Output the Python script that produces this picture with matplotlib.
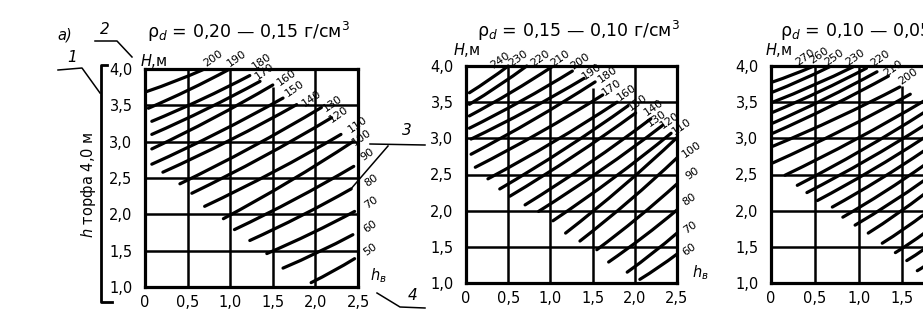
import numpy as np
import matplotlib
matplotlib.use("Agg")
import matplotlib.pyplot as plt
from matplotlib.path import Path
from matplotlib.patches import PathPatch
from matplotlib.lines import Line2D

plt.rcParams['font.family'] = ['DejaVu Sans']
plt.rcParams['mathtext.fontset'] = 'dejavusans'

# ---------------------------------------------------------------- data
x_ticks = [0, 0.5, 1.0, 1.5, 2.0, 2.5]
x_ticklabels = ['0', '0,5', '1,0', '1,5', '2,0', '2,5']
y_ticks = [1.0, 1.5, 2.0, 2.5, 3.0, 3.5, 4.0]
y_ticklabels = ['1,0', '1,5', '2,0', '2,5', '3,0', '3,5', '4,0']

titles = [r'ρ$_d$ = 0,20 — 0,15 г/см$^3$',
          r'ρ$_d$ = 0,15 — 0,10 г/см$^3$',
          r'ρ$_d$ = 0,10 — 0,05 г/см$^3$']

# panel a), rho 0.20-0.15
p1_values = [200, 190, 180, 170, 160, 150, 140, 130, 120, 110, 100, 90, 80, 70, 60, 50]
p1_x0 = [0.02, 0.04, 0.08, 0.08, 0.08, 0.08, 0.21, 0.41, 0.55, 0.70, 0.92, 1.05, 1.23, 1.43, 1.62, 1.95]
p1_y0 = [3.69, 3.46, 3.28, 3.10, 2.90, 2.69, 2.58, 2.42, 2.29, 2.11, 1.94, 1.79, 1.64, 1.46, 1.26, 1.06]
p1_x1 = [0.68, 0.98, 1.23, 1.35, 1.50, 1.62, 1.78, 2.07, 2.19, 2.30, 2.44, 2.45, 2.42, 2.46, 2.44, 2.46]
p1_y1 = [3.99, 3.99, 3.91, 3.83, 3.78, 3.60, 3.51, 3.47, 3.33, 3.10, 3.00, 2.66, 2.35, 2.04, 1.72, 1.39]
p1_lab = ['200', '190', '180', '170', '160', '150', '140', '130', '120', '110', '100', '90', '80', '70', '60', '50']
p1_lab_x = [0.80, 1.08, 1.37, 1.41, 1.66, 1.76, 1.96, 2.20, 2.28, 2.50, 2.54, 2.61, 2.66, 2.66, 2.64, 2.64]
p1_lab_y = [4.14, 4.15, 4.11, 3.96, 3.88, 3.73, 3.59, 3.53, 3.38, 3.23, 3.06, 2.82, 2.47, 2.16, 1.83, 1.51]

# panel rho 0.15-0.10
p2_values = [240, 230, 220, 210, 200, 190, 180, 170, 160, 150, 140, 130, 120, 110, 100, 90, 80, 70, 60]
p2_x0 = [0.04, 0.04, 0.04, 0.04, 0.06, 0.06, 0.11, 0.26, 0.40, 0.52, 0.70, 0.86, 1.03, 1.18, 1.35, 1.55, 1.69, 1.91, 2.06]
p2_y0 = [3.63, 3.47, 3.31, 3.14, 2.99, 2.78, 2.60, 2.44, 2.30, 2.20, 2.08, 1.99, 1.86, 1.69, 1.58, 1.46, 1.29, 1.15, 1.05]
p2_x1 = [0.50, 0.72, 1.02, 1.26, 1.40, 1.53, 1.62, 1.79, 1.92, 2.01, 2.19, 2.33, 2.43, 2.50, 2.50, 2.50, 2.50, 2.50, 2.50]
p2_y1 = [4.00, 4.00, 3.99, 3.93, 3.83, 3.78, 3.60, 3.50, 3.45, 3.35, 3.27, 3.18, 3.07, 3.01, 2.73, 2.37, 2.01, 1.69, 1.40]
p2_lab = ['240', '230', '220', '210', '200', '190', '180', '170', '160', '150', '140', '130', '120', '110', '100', '90', '80', '70', '60']
p2_lab_x = [0.40, 0.62, 0.88, 1.11, 1.35, 1.49, 1.68, 1.73, 1.91, 2.04, 2.22, 2.26, 2.42, 2.56, 2.68, 2.68, 2.65, 2.65, 2.65]
p2_lab_y = [4.08, 4.11, 4.11, 4.10, 4.06, 3.92, 3.88, 3.70, 3.63, 3.49, 3.43, 3.28, 3.25, 3.16, 2.84, 2.52, 2.15, 1.77, 1.46]

# panel rho 0.10-0.05 (cut at the right edge of the page)
p3_values = [270, 260, 250, 240, 230, 220, 210, 200, 190, 180, 170, 160, 150, 140, 130, 120, 110, 100, 90, 80]
p3_x0 = [0.02, 0.02, 0.02, 0.02, 0.02, 0.02, 0.02, 0.02, 0.16, 0.30, 0.41, 0.53, 0.70, 0.82, 0.96, 1.11, 1.27, 1.42, 1.55, 1.67]
p3_y0 = [3.78, 3.64, 3.50, 3.36, 3.21, 3.07, 2.89, 2.66, 2.49, 2.35, 2.25, 2.14, 2.05, 1.91, 1.80, 1.69, 1.55, 1.42, 1.31, 1.17]
p3_x1 = [0.47, 0.67, 0.94, 1.09, 1.21, 1.34, 1.47, 1.59, 1.75, 1.75, 1.75, 1.75, 1.75, 1.75, 1.75, 1.75, 1.75, 1.75, 1.75, 1.75]
p3_y1 = [3.99, 3.99, 3.99, 3.97, 3.92, 3.86, 3.71, 3.61, 3.52, 3.36, 3.18, 3.01, 2.83, 2.63, 2.42, 2.23, 1.95, 1.69, 1.47, 1.23]
p3_lab = ['270', '260', '250', '230', '220', '210', '200']
p3_lab_x = [0.39, 0.55, 0.72, 0.96, 1.25, 1.39, 1.57]
p3_lab_y = [4.12, 4.14, 4.12, 4.12, 4.11, 3.96, 3.85]

panels = [
    (p1_x0, p1_y0, p1_x1, p1_y1, p1_lab, p1_lab_x, p1_lab_y),
    (p2_x0, p2_y0, p2_x1, p2_y1, p2_lab, p2_lab_x, p2_lab_y),
    (p3_x0, p3_y0, p3_x1, p3_y1, p3_lab, p3_lab_x, p3_lab_y),
]

# ---------------------------------------------------------------- layout (pixels)
W, H = 923, 321
def fx(px):
    return px / W
def fy(py):
    return 1 - py / H

# left, right, top, bottom of each plot frame
frames = [(145, 358, 69, 287), (466, 677, 66, 283), (771, 990, 66, 283)]
title_pos = [(248, 32), (578, 31), (780, 31)]
hm_pos = [(140, 61), (453, 50), (765, 50)]
hv_pos = [(370, 276), (692, 273), None]
v15_top = [3.75, 3.70, 3.72]   # the 1,5 line stops under the curves

fig = plt.figure(figsize=(W / 100, H / 100), dpi=100)

LW_CURVE = 2.3
LW_GRID = 1.8

for i, (l, r, t, b) in enumerate(frames):
    ax = fig.add_axes([fx(l), fy(b), (r - l) / W, (b - t) / H])
    ax.set_xlim(0, 2.5)
    ax.set_ylim(1, 4)
    for s in ax.spines.values():
        s.set_linewidth(2.3)
    ax.set_xticks(x_ticks, x_ticklabels)
    ax.set_yticks(y_ticks, y_ticklabels)
    ax.tick_params(length=0, labelsize=10.5)
    ax.tick_params(axis='x', pad=6)
    ax.tick_params(axis='y', pad=9)

    # grid
    for xv in [0.5, 1.0, 1.5, 2.0]:
        top = v15_top[i] if xv == 1.5 else 4.0
        ax.plot([xv, xv], [1, top], color='black', lw=LW_GRID, solid_capstyle='butt')
    for yv in [1.5, 2.0, 2.5, 3.0, 3.5]:
        ax.plot([0, 2.5], [yv, yv], color='black', lw=LW_GRID, solid_capstyle='butt')

    x0, y0, x1, y1, labs, lx, ly = panels[i]
    for a, b0, c, d in zip(x0, y0, x1, y1):
        # nearly straight, a little concave, between the two read end points
        mx, my = (a + c) / 2, (b0 + d) / 2
        cx, cy = mx + 0.025 * (d - b0), my - 0.025 * (c - a)
        path = Path([(a, b0), (cx, cy), (c, d)], [Path.MOVETO, Path.CURVE3, Path.CURVE3])
        ax.add_patch(PathPatch(path, fill=False, lw=LW_CURVE, color='black',
                               capstyle='round', clip_on=False))
    for txt, tx, ty in zip(labs, lx, ly):
        ax.text(tx, ty, txt, fontsize=8, rotation=35, ha='center', va='center',
                clip_on=False)

    fig.text(fx(title_pos[i][0]), fy(title_pos[i][1]), titles[i], fontsize=12.5,
             ha='center' if i < 2 else 'left', va='center')
    fig.text(fx(hm_pos[i][0]), fy(hm_pos[i][1]), r'$H$,м', fontsize=10.5,
             ha='left', va='center')
    if hv_pos[i] is not None:
        fig.text(fx(hv_pos[i][0]), fy(hv_pos[i][1]), r'$h_в$', fontsize=10.5,
                 ha='left', va='center')

# ---------------------------------------------------------------- annotations of panel a)
def fig_line(xs, ys, lw=1.1):
    fig.add_artist(Line2D([fx(v) for v in xs], [fy(v) for v in ys], color='black',
                          lw=lw, transform=fig.transFigure))

fig.text(fx(57), fy(35), 'а)', fontsize=10.5, style='italic', ha='left', va='center')
fig.text(fx(88), fy(185), r'$h$ торфа 4,0 м', fontsize=10.5, rotation=90,
         ha='center', va='center')
fig_line([107, 101, 101, 112], [65, 65, 302, 302], lw=2.0)

fig.text(fx(72), fy(58), '1', fontsize=11, style='italic', ha='center', va='center')
fig_line([58, 82, 100], [70, 68, 93])
fig.text(fx(105), fy(29), '2', fontsize=11, style='italic', ha='center', va='center')
fig_line([95, 117, 132], [41, 41, 57])
fig.text(fx(407), fy(130), '3', fontsize=11, style='italic', ha='center', va='center')
fig_line([370, 425], [144, 145])
fig_line([388, 350], [146, 190])
fig.text(fx(413), fy(295), '4', fontsize=11, style='italic', ha='center', va='center')
fig_line([377, 400, 425], [293, 307, 308])

fig.savefig('out.png', dpi=100)
